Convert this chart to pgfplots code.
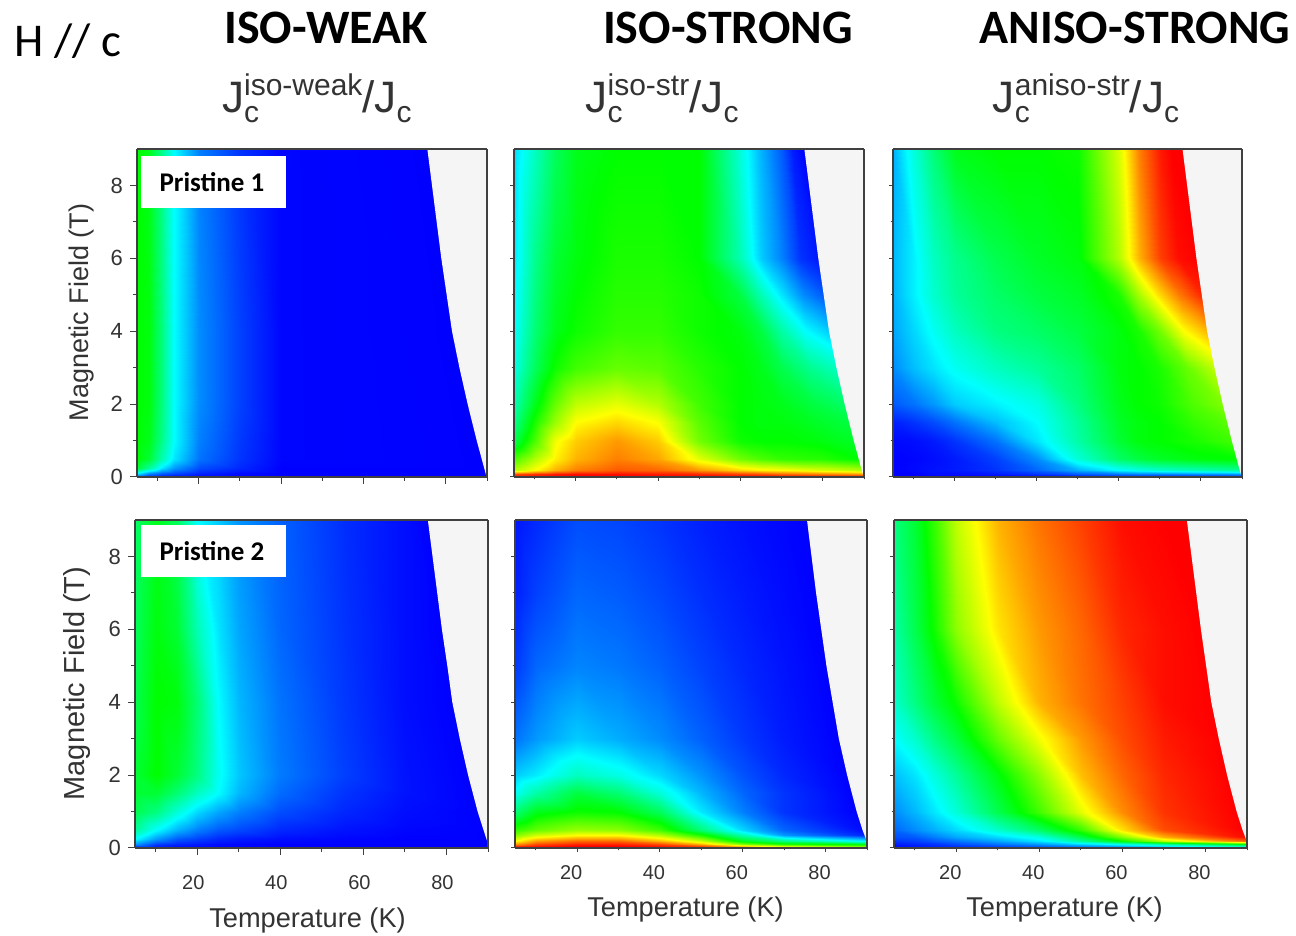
\documentclass[border=0pt]{standalone}
\usepackage{fontspec}
\setmainfont{Liberation Sans}
\newfontfamily\calib{Carlito}
\usepackage{pgfplots}
\pgfplotsset{compat=1.18}
\definecolor{txt}{HTML}{333333}
\definecolor{bggray}{HTML}{F5F5F5}
\newcommand\fs[1]{\fontsize{#1}{#1}\selectfont}
\newcommand\JT[1]{\fs{22}J\raisebox{-5pt}{\rlap{\fs{15}c}}\raisebox{8.5pt}{\fs{15}#1}/J\raisebox{-5pt}{\fs{15}c}}
\pgfplotsset{
  colormap={jetlike}{rgb=(0,0,1) rgb=(0,1,1) rgb=(0,1,0) rgb=(1,1,0) rgb=(1,0,0)},
  panel/.style={
    scale only axis, height=164pt, anchor=south west, view={0}{90},
    xmin=5,xmax=90,ymin=0,ymax=9,
    colormap name=jetlike, point meta min=0, point meta max=4,
    axis on top, axis background/.style={fill=bggray},
    xtick={20,40,60,80}, minor xtick={10,30,50,70,90},
    ytick={0,2,4,6,8}, minor ytick={1,3,5,7},
    xtick pos=bottom, ytick pos=left, tick align=outside,
    major tick length=3.5pt, minor tick length=2pt,
    axis line style={draw=black!75,line width=.7pt},
    every tick/.style={draw=black!75,line width=.5pt},
    /pgf/number format/assume math mode=true,
    tick label style={text=txt},
    xticklabel style={font=\fs{10},xshift=-3pt},
    yticklabel style={font=\fs{11}},
    label style={text=txt},
    xlabel style={font=\fs{13.6},anchor=center},
    ylabel style={font=\fs{13.5},anchor=center},
    title style={text=txt,anchor=center},
  },
  nox/.style={xticklabels={}},
  noy/.style={yticklabels={},major tick length=1.8pt,minor tick length=1.2pt},
  hm/.style={surf,shader=interp,mesh/ordering=x varies,mesh/cols=#1},
  mask/.style={draw=none,fill=bggray,forget plot},
}
\begin{document}
\begin{tikzpicture}
\useasboundingbox (0,0) rectangle (648pt,468pt);

% ---------- top left: iso-weak, Pristine 1
\begin{axis}[panel,width=175pt,at={(68.5pt,229.5pt)},nox,
  ylabel={Magnetic Field (T)},ylabel style={at={(rel axis cs:-0.158,0.5015)}},
  title={\JT{iso-weak}},title style={at={(rel axis cs:0.514,1.118)}}]
\addplot3[hm=8] coordinates {
(5,0,0.2)(8,0,0.1)(11,0,0.05)(14,0,0)(20,0,0)(30,0,0)(40,0,0)(90,0,0)
(5,0.1,1)(8,0.1,0.6)(11,0.1,0.4)(14,0.1,0.3)(20,0.1,0.15)(30,0.1,0.05)(40,0.1,0)(89.8,0.1,0)
(5,0.25,1.8)(8,0.25,1.4)(11,0.25,0.9)(14,0.25,0.6)(20,0.25,0.3)(30,0.25,0.15)(40,0.25,0)(89.4,0.25,0)
(5,0.5,2)(8,0.5,1.8)(11,0.5,1.3)(14,0.5,0.9)(20,0.5,0.45)(30,0.5,0.2)(40,0.5,0.02)(88.8,0.5,0)
(5,1,2)(8,1,1.9)(11,1,1.45)(14,1,1)(20,1,0.5)(30,1,0.22)(40,1,0.02)(87.6,1,0)
(5,2,2)(8,2,1.95)(11,2,1.5)(14,2,1)(20,2,0.55)(30,2,0.25)(40,2,0.02)(85.4,2,0)
(5,4,2)(8,4,1.95)(11,4,1.5)(14,4,1)(20,4,0.55)(30,4,0.25)(40,4,0.02)(81.6,4,0)
(5,9,2)(8,9,1.9)(11,9,1.45)(14,9,1)(20,9,0.5)(30,9,0.2)(40,9,0.02)(75.5,9,0)
};
\addplot3[mask] coordinates {(75.4,9.1,0)(78.9,6,0)(80.2,5,0)(81.5,4,0)(83.3,3,0)(85.3,2,0)(87.5,1,0)(88.7,0.5,0)(89.9,0,0)(90.2,0,0)(90.2,9.1,0)};
\end{axis}

% ---------- top middle: iso-strong, Pristine 1
\begin{axis}[panel,width=175pt,at={(257pt,229.5pt)},nox,noy,
  title={\JT{iso-str}},title style={at={(rel axis cs:0.423,1.118)}}]
\addplot3[hm=12] coordinates {
(5,0,4)(10,0,4)(15,0,4)(20,0,4)(30,0,4)(40,0,4)(50,0,4)(60,0,4)(65,0,4)(70,0,4)(80,0,4)(90,0,4)
(5,0.08,3.7)(10,0.08,3.8)(15,0.08,3.9)(20,0.08,3.95)(30,0.08,3.95)(40,0.08,3.9)(50,0.08,3.85)(60,0.08,3.75)(65,0.08,3.7)(70,0.08,3.6)(79.9,0.08,3.5)(89.8,0.08,3.4)
(5,0.2,2.7)(10,0.2,3)(15,0.2,3.3)(20,0.2,3.5)(30,0.2,3.65)(40,0.2,3.6)(50,0.2,3.4)(60,0.2,3.15)(65,0.2,3.05)(70,0.2,3)(79.75,0.2,2.85)(89.5,0.2,2.7)
(5,0.5,2.3)(10,0.5,2.7)(15,0.5,3.05)(20,0.5,3.3)(30,0.5,3.5)(40,0.5,3.35)(50,0.5,2.9)(60,0.5,2.45)(65,0.5,2.3)(70,0.5,2.2)(79.4,0.5,2.15)(88.8,0.5,2)
(5,1,1.7)(10,1,2.3)(15,1,2.95)(20,1,3.2)(30,1,3.4)(40,1,3.2)(50,1,2.45)(60,1,2.05)(65,1,2)(70,1,2)(78.8,1,1.95)(87.6,1,1.85)
(5,1.5,1.45)(10,1.5,2.1)(15,1.5,2.6)(20,1.5,3)(30,1.5,3.15)(40,1.5,2.98)(50,1.5,2.35)(60,1.5,2)(65,1.5,1.95)(70,1.5,1.95)(78.25,1.5,1.85)(86.5,1.5,1.75)
(5,2,1.3)(10,2,1.9)(15,2,2.4)(20,2,2.75)(30,2,2.9)(40,2,2.7)(50,2,2.25)(60,2,2)(65,2,1.95)(70,2,1.9)(77.7,2,1.75)(85.4,2,1.6)
(5,3,1.1)(10,3,1.65)(15,3,2.05)(20,3,2.25)(30,3,2.4)(40,3,2.35)(50,3,2.15)(60,3,2)(65,3,1.9)(70,3,1.7)(76.7,3,1.45)(83.4,3,1.25)
(5,4,1)(10,4,1.55)(15,4,1.9)(20,4,2.05)(30,4,2.2)(40,4,2.2)(50,4,2.05)(60,4,1.95)(65,4,1.75)(70,4,1.35)(75.8,4,1)(81.6,4,0.8)
(5,5,0.95)(10,5,1.5)(15,5,1.85)(20,5,2)(30,5,2.15)(40,5,2.15)(50,5,2.05)(60,5,1.75)(65,5,1.3)(70,5,0.9)(75.15,5,0.55)(80.3,5,0.35)
(5,6,0.9)(10,6,1.45)(15,6,1.8)(20,6,1.95)(30,6,2.1)(40,6,2.1)(50,6,2)(60,6,1.3)(65,6,0.8)(70,6,0.5)(74.5,6,0.2)(79,6,0.08)
(5,9,0.85)(10,9,1.25)(15,9,1.65)(20,9,1.9)(30,9,2)(40,9,2)(50,9,2)(60,9,1.15)(65,9,0.7)(70,9,0.35)(72.75,9,0.1)(75.5,9,0)
};
\addplot3[mask] coordinates {(75.4,9.1,0)(78.9,6,0)(80.2,5,0)(81.5,4,0)(83.3,3,0)(85.3,2,0)(87.5,1,0)(88.7,0.5,0)(89.9,0,0)(90.2,0,0)(90.2,9.1,0)};
\end{axis}

% ---------- top right: aniso-strong, Pristine 1
\begin{axis}[panel,width=174.5pt,at={(446.5pt,229.5pt)},nox,noy,
  title={\JT{aniso-str}},title style={at={(rel axis cs:0.553,1.118)}}]
\addplot3[hm=12] coordinates {
(5,0,0)(10,0,0)(15,0,0)(20,0,0)(30,0,0)(40,0,0)(50,0,0)(60,0,0.1)(65,0,0.1)(70,0,0.1)(80,0,0.1)(90,0,0.1)
(5,0.08,0)(10,0.08,0)(15,0.08,0.05)(20,0.08,0.05)(30,0.08,0.1)(40,0.08,0.2)(50,0.08,0.35)(60,0.08,0.45)(65,0.08,0.5)(70,0.08,0.5)(79.9,0.08,0.55)(89.8,0.08,0.6)
(5,0.2,0)(10,0.2,0.03)(15,0.2,0.07)(20,0.2,0.1)(30,0.2,0.2)(40,0.2,0.4)(50,0.2,0.7)(60,0.2,1)(65,0.2,1.1)(70,0.2,1.2)(79.75,0.2,1.3)(89.5,0.2,1.4)
(5,0.5,0)(10,0.5,0.02)(15,0.5,0.05)(20,0.5,0.1)(30,0.5,0.25)(40,0.5,0.55)(50,0.5,1.15)(60,0.5,1.6)(65,0.5,1.75)(70,0.5,1.85)(79.4,0.5,1.95)(88.8,0.5,2)
(5,1,0.03)(10,1,0.05)(15,1,0.1)(20,1,0.2)(30,1,0.45)(40,1,0.9)(50,1,1.35)(60,1,1.8)(65,1,1.95)(70,1,2)(78.8,1,2.1)(87.6,1,2.25)
(5,1.5,0.12)(10,1.5,0.2)(15,1.5,0.3)(20,1.5,0.45)(30,1.5,0.75)(40,1.5,1)(50,1.5,1.4)(60,1.5,1.85)(65,1.5,1.95)(70,1.5,2)(78.25,1.5,2.2)(86.5,1.5,2.35)
(5,2,0.35)(10,2,0.45)(15,2,0.6)(20,2,0.8)(30,2,0.95)(40,2,1.1)(50,2,1.5)(60,2,1.9)(65,2,2)(70,2,2.05)(77.7,2,2.3)(85.4,2,2.5)
(5,3,0.55)(10,3,0.75)(15,3,0.9)(20,3,1.05)(30,3,1.25)(40,3,1.4)(50,3,1.6)(60,3,1.95)(65,3,2)(70,3,2.1)(76.7,3,2.4)(83.4,3,2.75)
(5,4,0.65)(10,4,0.85)(15,4,1.05)(20,4,1.25)(30,4,1.5)(40,4,1.6)(50,4,1.75)(60,4,1.95)(65,4,2.1)(70,4,2.45)(75.8,4,3)(81.6,4,3.3)
(5,5,0.7)(10,5,0.95)(15,5,1.2)(20,5,1.4)(30,5,1.6)(40,5,1.75)(50,5,1.85)(60,5,2.1)(65,5,2.65)(70,5,3.15)(75.15,5,3.55)(80.3,5,3.85)
(5,6,0.72)(10,6,0.95)(15,6,1.25)(20,6,1.45)(30,6,1.7)(40,6,1.85)(50,6,1.95)(60,6,2.7)(65,6,3.3)(70,6,3.75)(74.5,6,3.95)(79,6,4)
(5,9,0.7)(10,9,1.15)(15,9,1.55)(20,9,1.9)(30,9,2)(40,9,2)(50,9,2.05)(60,9,2.85)(65,9,3.5)(70,9,3.9)(72.75,9,4)(75.5,9,4)
};
\addplot3[mask] coordinates {(75.4,9.1,0)(78.9,6,0)(80.2,5,0)(81.5,4,0)(83.3,3,0)(85.3,2,0)(87.5,1,0)(88.7,0.5,0)(89.9,0,0)(90.2,0,0)(90.2,9.1,0)};
\end{axis}

% ---------- bottom left: iso-weak, Pristine 2
\begin{axis}[panel,width=176.5pt,at={(67.5pt,44pt)},
  xticklabel style={xshift=1pt,yshift=-6.5pt},
  xlabel={Temperature (K)},xlabel style={at={(rel axis cs:0.4887,-0.222)}},
  ylabel={Magnetic Field (T)},ylabel style={font=\fs{14.5},at={(rel axis cs:-0.165,0.5015)}}]
\addplot3[hm=10] coordinates {
(5,0,0)(10,0,0)(15,0,0)(20,0,0)(25,0,0)(30,0,0)(40,0,0)(55,0,0)(70,0,0)(90,0,0)
(5,0.1,0.6)(10,0.1,0.25)(15,0.1,0.15)(20,0.1,0.1)(25,0.1,0.05)(30,0.1,0.03)(40,0.1,0)(55,0.1,0)(70,0.1,0)(90,0.1,0)
(5,0.25,1)(10,0.25,0.6)(15,0.25,0.35)(20,0.25,0.25)(25,0.25,0.15)(30,0.25,0.1)(40,0.25,0.05)(55,0.25,0.02)(70,0.25,0)(89.7,0.25,0)
(5,0.5,1.4)(10,0.5,1)(15,0.5,0.7)(20,0.5,0.5)(25,0.5,0.35)(30,0.5,0.28)(40,0.5,0.15)(55,0.5,0.07)(70,0.5,0.02)(89,0.5,0)
(5,1,1.7)(10,1,1.5)(15,1,1.15)(20,1,0.85)(25,1,0.65)(30,1,0.5)(40,1,0.3)(55,1,0.15)(70,1,0.05)(87.6,1,0)
(5,1.5,1.8)(10,1.5,1.8)(15,1.5,1.55)(20,1.5,1.25)(25,1.5,1)(30,1.5,0.72)(40,1.5,0.42)(55,1.5,0.2)(70,1.5,0.07)(86.5,1.5,0)
(5,2,1.8)(10,2,2)(15,2,1.8)(20,2,1.5)(25,2,1.05)(30,2,0.78)(40,2,0.48)(55,2,0.25)(70,2,0.07)(85.3,2,0)
(5,4,1.7)(10,4,2)(15,4,1.95)(20,4,1.55)(25,4,1)(30,4,0.72)(40,4,0.45)(55,4,0.22)(70,4,0.05)(81.5,4,0)
(5,6,1.65)(10,6,1.95)(15,6,1.8)(20,6,1.3)(25,6,0.9)(30,6,0.65)(40,6,0.4)(55,6,0.2)(70,6,0.05)(79,6,0)
(5,9,1.6)(10,9,1.9)(15,9,1.65)(20,9,1)(25,9,0.8)(30,9,0.58)(40,9,0.38)(55,9,0.18)(70,9,0.05)(75.5,9,0)
};
\addplot3[mask] coordinates {(75.4,9.1,0)(78.9,6,0)(80.2,5,0)(81.4,4,0)(83.2,3,0)(85.2,2,0)(87.5,1,0)(88.9,0.5,0)(89.9,0.15,0)(90.2,0.15,0)(90.2,9.1,0)};
\end{axis}

% ---------- bottom middle: iso-strong, Pristine 2
\begin{axis}[panel,width=176pt,at={(257.5pt,44pt)},noy,
  xticklabel style={yshift=-3.5pt},
  xlabel={Temperature (K)},xlabel style={at={(rel axis cs:0.4844,-0.186)}}]
\addplot3[hm=9] coordinates {
(5,0,4)(10,0,4)(20,0,4)(30,0,4)(40,0,4)(50,0,4)(60,0,3.8)(70,0,3.6)(90,0,3.2)
(5,0.05,3.8)(10,0.05,3.9)(20,0.05,4)(30,0.05,4)(40,0.05,3.9)(50,0.05,3.7)(60,0.05,3.2)(70,0.05,2.8)(90,0.05,2.4)
(5,0.12,3.4)(10,0.12,3.7)(20,0.12,3.85)(30,0.12,3.85)(40,0.12,3.7)(50,0.12,3.3)(60,0.12,2.5)(70,0.12,2.1)(90,0.12,1.9)
(5,0.2,3)(10,0.2,3.4)(20,0.2,3.6)(30,0.2,3.6)(40,0.2,3.3)(50,0.2,2.8)(60,0.2,1.9)(70,0.2,1.5)(90,0.2,1)
(5,0.35,2.5)(10,0.35,2.8)(20,0.35,3)(30,0.35,3)(40,0.35,2.7)(50,0.35,2.1)(60,0.35,1.3)(70,0.35,0.6)(89.4,0.35,0.15)
(5,0.5,2.2)(10,0.5,2.4)(20,0.5,2.6)(30,0.5,2.55)(40,0.5,2.25)(50,0.5,1.55)(60,0.5,0.85)(70,0.5,0.4)(89,0.5,0.05)
(5,1,1.55)(10,1,1.9)(20,1,2.05)(30,1,2)(40,1,1.65)(50,1,0.92)(60,1,0.5)(70,1,0.2)(87.6,1,0)
(5,1.5,1.05)(10,1.5,1.35)(20,1.5,1.75)(30,1.5,1.55)(40,1.5,1.15)(50,1.5,0.72)(60,1.5,0.4)(70,1.5,0.2)(86.5,1.5,0)
(5,2,0.8)(10,2,0.93)(20,2,1.25)(30,2,1.1)(40,2,0.85)(50,2,0.58)(60,2,0.32)(70,2,0.15)(85.3,2,0)
(5,3,0.45)(10,3,0.6)(20,3,0.8)(30,3,0.68)(40,3,0.55)(50,3,0.38)(60,3,0.22)(70,3,0.1)(83.3,3,0)
(5,5,0.22)(10,5,0.4)(20,5,0.52)(30,5,0.47)(40,5,0.38)(50,5,0.26)(60,5,0.15)(70,5,0.07)(80.3,5,0)
(5,7,0.12)(10,7,0.25)(20,7,0.4)(30,7,0.36)(40,7,0.28)(50,7,0.18)(60,7,0.1)(70,7,0.04)(77.8,7,0)
(5,9,0.08)(10,9,0.16)(20,9,0.3)(30,9,0.27)(40,9,0.2)(50,9,0.12)(60,9,0.06)(70,9,0.02)(75.5,9,0)
};
\addplot3[mask] coordinates {(75.4,9.1,0)(77.7,7,0)(80.2,5,0)(83.2,3,0)(85.2,2,0)(87.5,1,0)(88.9,0.5,0)(89.9,0.2,0)(90.2,0.2,0)(90.2,9.1,0)};
\end{axis}

% ---------- bottom right: aniso-strong, Pristine 2
\begin{axis}[panel,width=176.5pt,at={(447pt,44pt)},noy,
  xticklabel style={yshift=-3.5pt},
  xlabel={Temperature (K)},xlabel style={at={(rel axis cs:0.483,-0.186)}}]
\addplot3[hm=10] coordinates {
(5,0,0)(10,0,0)(15,0,0)(20,0,0)(30,0,0)(40,0,0)(50,0,0.1)(60,0,0.3)(70,0,0.6)(90,0,0.8)
(5,0.05,0.05)(10,0.05,0.1)(15,0.05,0.15)(20,0.05,0.2)(30,0.05,0.3)(40,0.05,0.4)(50,0.05,0.55)(60,0.05,0.7)(70,0.05,0.9)(90,0.05,1.3)
(5,0.1,0.1)(10,0.1,0.15)(15,0.1,0.2)(20,0.1,0.3)(30,0.1,0.45)(40,0.1,0.6)(50,0.1,0.85)(60,0.1,1.1)(70,0.1,1.4)(90,0.1,2)
(5,0.2,0.2)(10,0.2,0.25)(15,0.2,0.35)(20,0.2,0.45)(30,0.2,0.65)(40,0.2,0.9)(50,0.2,1.4)(60,0.2,2)(70,0.2,2.7)(90,0.2,3.6)
(5,0.3,0.3)(10,0.3,0.35)(15,0.3,0.5)(20,0.3,0.65)(30,0.3,0.85)(40,0.3,1.1)(50,0.3,1.7)(60,0.3,2.5)(70,0.3,3.3)(89.6,0.3,3.95)
(5,0.5,0.4)(10,0.5,0.55)(15,0.5,0.7)(20,0.5,0.85)(30,0.5,1.2)(40,0.5,1.6)(50,0.5,2.2)(60,0.5,3.1)(70,0.5,3.7)(89,0.5,4)
(5,1,0.55)(10,1,0.72)(15,1,0.93)(20,1,1.15)(30,1,1.7)(40,1,2.25)(50,1,2.9)(60,1,3.45)(70,1,3.8)(87.6,1,4)
(5,2,0.75)(10,2,0.9)(15,2,1.15)(20,2,1.4)(30,2,1.95)(40,2,2.55)(50,2,3.25)(60,2,3.6)(70,2,3.85)(85.3,2,4)
(5,3,1)(10,3,1.2)(15,3,1.5)(20,3,1.75)(30,3,2.4)(40,3,2.95)(50,3,3.4)(60,3,3.7)(70,3,3.9)(83.3,3,4)
(5,4,1.2)(10,4,1.5)(15,4,1.8)(20,4,2.05)(30,4,2.75)(40,4,3.3)(50,4,3.55)(60,4,3.75)(70,4,3.95)(81.5,4,4)
(5,6,1.35)(10,6,1.7)(15,6,2.1)(20,6,2.55)(30,6,3.1)(40,6,3.4)(50,6,3.6)(60,6,3.85)(70,6,3.95)(79,6,4)
(5,9,1.5)(10,9,1.8)(15,9,2.25)(20,9,2.75)(30,9,3.3)(40,9,3.55)(50,9,3.75)(60,9,3.95)(70,9,4)(75.5,9,4)
};
\addplot3[mask] coordinates {(75.4,9.1,0)(78.9,6,0)(81.4,4,0)(83.2,3,0)(85.2,2,0)(87.5,1,0)(88.9,0.5,0)(89.9,0.2,0)(90.2,0.2,0)(90.2,9.1,0)};
\end{axis}

% ---------- headings and sample labels (coordinates: px/2, from the bottom)
\node[font=\calib\fs{23.5}] at (34pt,447.5pt) {H // c};
\node[font=\calib\bfseries\fs{24}] at (163pt,454pt) {ISO-WEAK};
\node[font=\calib\bfseries\fs{24}] at (364pt,454pt) {ISO-STRONG};
\node[font=\calib\bfseries\fs{24}] at (567.5pt,454pt) {ANISO-STRONG};
\fill[white] (70.5pt,364pt) rectangle (143pt,390pt);
\node[font=\calib\bfseries\fs{13.5}] at (106pt,377pt) {Pristine 1};
\fill[white] (70.5pt,179.5pt) rectangle (143pt,205.5pt);
\node[font=\calib\bfseries\fs{13.5}] at (106pt,192.5pt) {Pristine 2};
\end{tikzpicture}
\end{document}
